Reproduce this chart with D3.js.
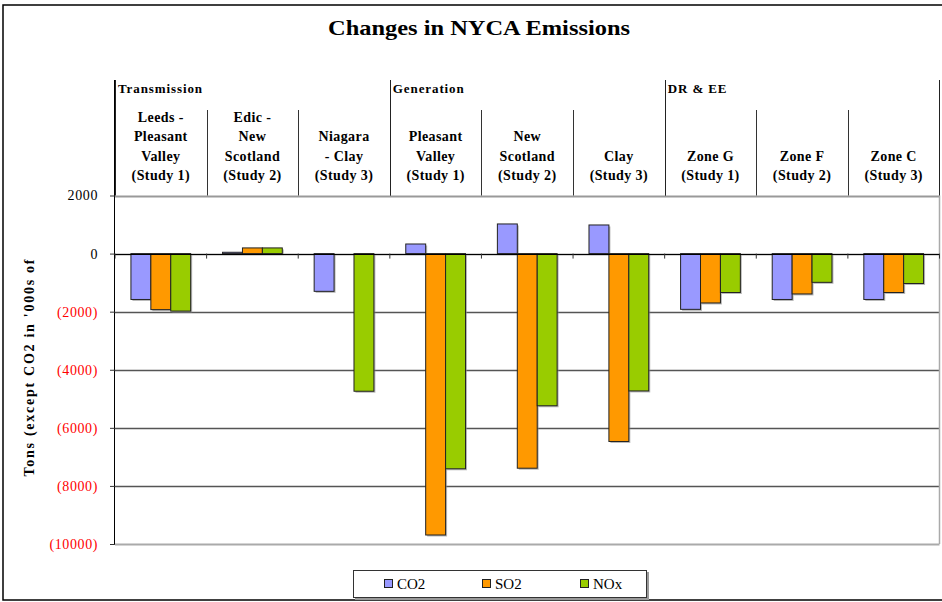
<!DOCTYPE html>
<html><head><meta charset="utf-8">
<script src="https://cdn.jsdelivr.net/npm/d3@7"></script>
<style>body{margin:0;background:#fff}svg{display:block;font-family:"Liberation Serif","Times New Roman",serif}svg text{font-family:"Liberation Serif","Times New Roman",serif}</style>
</head><body><svg id="c" width="942" height="602"></svg>
<script>
const categories = [
  ["Leeds -","Pleasant","Valley","(Study 1)"],
  ["Edic -","New","Scotland","(Study 2)"],
  ["Niagara","- Clay","(Study 3)"],
  ["Pleasant","Valley","(Study 1)"],
  ["New","Scotland","(Study 2)"],
  ["Clay","(Study 3)"],
  ["Zone G","(Study 1)"],
  ["Zone F","(Study 2)"],
  ["Zone C","(Study 3)"]
];
const groups = ["Transmission","Generation","DR & EE"];
const groupSizes = [3,3,3];
const seriesNames = ["CO2","SO2","NOx"];
const co2 = [-1580, 45, -1300, 330, 1020, 985, -1920, -1580, -1580];
const so2 = [-1930, 195, 0, -9690, -7390, -6470, -1700, -1390, -1340];
const nox = [-1980, 195, -4740, -7410, -5240, -4730, -1340, -990, -1030];
const yTicks = [2000, 0, -2000, -4000, -6000, -8000, -10000];
const colors = ["#9999FF","#FF9900","#99CC00"];

const FONT = "'Liberation Serif', 'Times New Roman', serif";
const svg = d3.select("#c").attr("font-family", FONT);
const L = 115, R = 939.5, T = 195.5, B = 544;
const idx = d3.range(categories.length);
const x0 = d3.scaleBand().domain(idx).range([L, R]);
const x1 = d3.scaleBand().domain(d3.range(3)).range([0, x0.bandwidth()]).paddingOuter(0.8).paddingInner(0);
const y = d3.scaleLinear().domain([-10000, 2000]).range([B, T]);
const series = [co2, so2, nox];

// outer frame
svg.append("rect").attr("x",3).attr("y",5).attr("width",960).attr("height",595)
  .attr("fill","none").attr("stroke","#000").attr("stroke-width",1.5);

// title
svg.append("text").attr("x",479).attr("y",35).attr("text-anchor","middle")
  .attr("font-size",22).attr("font-weight","bold").attr("textLength",302).attr("lengthAdjust","spacingAndGlyphs")
  .text("Changes in NYCA Emissions");

// gridlines
svg.append("g").selectAll("line").data(yTicks).join("line")
  .attr("x1",L).attr("x2",R).attr("y1",d=>Math.round(y(d))+0.5).attr("y2",d=>Math.round(y(d))+0.5)
  .attr("stroke",d=> d===2000 ? "#999" : d===-10000 ? "#aaa" : "#555")
  .attr("stroke-width",d=> d===2000||d===-10000 ? 2 : 1.5);
svg.append("line").attr("x1",R).attr("x2",R).attr("y1",T).attr("y2",B).attr("stroke","#aaa").attr("stroke-width",1.5);

// bars (shadow + bar)
series.forEach((vals, s) => {
  const g = svg.append("g");
  g.selectAll("rect.sh").data(vals).join("rect").attr("class","sh")
    .attr("x",(d,i)=>x0(i)+x1(s)+1.5).attr("y",d=>Math.min(y(d),y(0))+1.5)
    .attr("width",x1.bandwidth()).attr("height",d=>Math.abs(y(d)-y(0)))
    .attr("fill","#888").attr("opacity",d=>d===0?0:0.6);
  g.selectAll("rect.b").data(vals).join("rect").attr("class","b")
    .attr("x",(d,i)=>x0(i)+x1(s)).attr("y",d=>Math.min(y(d),y(0)))
    .attr("width",x1.bandwidth()).attr("height",d=>Math.abs(y(d)-y(0)))
    .attr("fill",colors[s]).attr("stroke","#222").attr("stroke-width",d=>d===0?0:1);
});

// zero line
svg.append("line").attr("x1",L).attr("x2",R).attr("y1",Math.round(y(0))+0.5).attr("y2",Math.round(y(0))+0.5)
  .attr("stroke","#000").attr("stroke-width",1.2);
svg.append("g").selectAll("line").data(d3.range(categories.length+1)).join("line")
  .attr("x1",i=> i<categories.length ? x0(i) : R).attr("x2",i=> i<categories.length ? x0(i) : R)
  .attr("y1",y(0)).attr("y2",y(0)+5).attr("stroke","#333");

// y axis
const yAxis = svg.append("g").attr("transform",`translate(${L},0)`)
  .call(d3.axisLeft(y).tickValues(yTicks).tickSize(5).tickPadding(12)
    .tickFormat(d => d < 0 ? `(${-d})` : `${d}`));
yAxis.select(".domain").attr("stroke","#000").attr("d",`M-0.5,80V${B}`);
yAxis.selectAll(".tick line").attr("stroke","#333");
yAxis.selectAll(".tick text").attr("font-size",14).attr("font-family",FONT).attr("letter-spacing",0.6)
  .attr("fill",d=> d<0 ? "#FF0000" : "#000");

// y title
svg.append("text").attr("transform","translate(34,368) rotate(-90)").attr("text-anchor","middle")
  .attr("font-size",14).attr("font-weight","bold").attr("font-family",FONT)
  .attr("textLength",217).attr("lengthAdjust","spacing")
  .text("Tons (except CO2 in '000s of");

// header: category separators and labels
svg.append("g").selectAll("line").data(d3.range(1,categories.length)).join("line")
  .attr("x1",i=>Math.round(x0(i))+0.5).attr("x2",i=>Math.round(x0(i))+0.5).attr("y1",110).attr("y2",T)
  .attr("stroke","#333");
let start = 0;
const gStarts = groupSizes.map(n => { const s = start; start += n; return s; });
svg.append("g").selectAll("line").data(gStarts.concat([categories.length])).join("line")
  .attr("x1",i=> i<categories.length ? Math.round(x0(i))+0.5 : R).attr("x2",i=> i<categories.length ? Math.round(x0(i))+0.5 : R)
  .attr("y1",80).attr("y2",T).attr("stroke","#222");
svg.append("g").selectAll("text").data(groups).join("text")
  .attr("x",(d,i)=>x0(gStarts[i])+3).attr("y",93).attr("font-size",13).attr("font-weight","bold")
  .attr("letter-spacing",0.9).attr("font-family",FONT).text(d=>d);

const lab = svg.append("g");
categories.forEach((lines, i) => {
  const n = lines.length;
  lines.forEach((t, k) => {
    lab.append("text").attr("x", x0(i)+x0.bandwidth()/2).attr("y", 180 - (n-1-k)*19.3)
      .attr("text-anchor","middle").attr("font-size",14).attr("font-weight","bold")
      .attr("letter-spacing",0.4).attr("font-family",FONT).text(t);
  });
});

// legend
const lg = svg.append("g");
lg.append("rect").attr("x",355).attr("y",572).attr("width",294).attr("height",28).attr("fill","#999");
lg.append("rect").attr("x",353.5).attr("y",570.5).attr("width",293).attr("height",27).attr("fill","#fff").attr("stroke","#333");
const lx = [384, 482, 580];
seriesNames.forEach((nm, s) => {
  lg.append("rect").attr("x",lx[s]+0.5).attr("y",579.5).attr("width",8).attr("height",8)
    .attr("fill",colors[s]).attr("stroke","#222");
  lg.append("text").attr("x",lx[s]+13).attr("y",589).attr("font-size",15).attr("font-family",FONT).text(nm);
});
</script></body></html>
